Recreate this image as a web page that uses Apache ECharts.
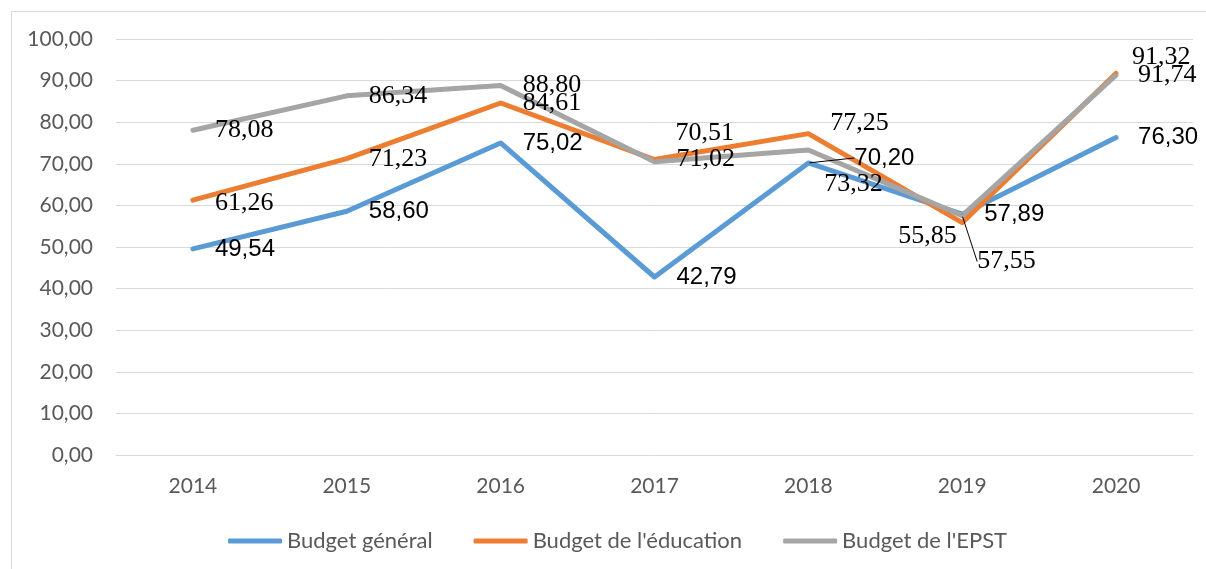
<!DOCTYPE html>
<html>
<head>
<meta charset="utf-8">
<script src="https://cdn.jsdelivr.net/npm/echarts@6/dist/echarts.min.js"></script>
<style>
  html, body { margin: 0; padding: 0; background: #fff; }
  #chart { width: 1206px; height: 569px; }
</style>
</head>
<body>
<div id="chart"></div>
<script>
    // data
    const years = ['2014', '2015', '2016', '2017', '2018', '2019', '2020'];
    const budgetGeneral = [49.54, 58.60, 75.02, 42.79, 70.20, 57.89, 76.30];
    const budgetEducation = [61.26, 71.23, 84.61, 71.02, 77.25, 55.85, 91.74];
    const budgetEpst = [78.08, 86.34, 88.80, 70.51, 73.32, 57.55, 91.32];
    const seriesNames = ['Budget général', "Budget de l'éducation", "Budget de l'EPST"];

    // label nudges (dataIndex -> [dx, dy]) and points with a leader line
    const moveGeneral = {4: [24, -5]};
    const moveEducation = {0: [0, 3], 4: [0, -10], 5: [-86, 14], 6: [0, 2]};
    const moveEpst = {3: [-1, -29], 4: [-6, 34], 5: [-7, 46], 6: [-6, -18]};
    const leaderGeneral = [4];
    const leaderEpst = [5];

    const SERIF = '"Liberation Serif", "Times New Roman", Times, serif';
    const SANS = '"Liberation Sans", Arial, sans-serif';
    const UI = 'Lato, "Open Sans", sans-serif';

    const fmt = v => v.toFixed(2).replace('.', ',');

    function buildData(values, leaders) {
        return values.map((v, i) => leaders.indexOf(i) >= 0
            ? {value: v, labelLine: {show: true, lineStyle: {color: '#000', width: 1}}}
            : v);
    }

    function makeSeries(name, values, color, font, size, moves, leaders) {
        return {
            name: name,
            type: 'line',
            data: buildData(values, leaders),
            symbol: 'circle',
            symbolSize: 2,
            showSymbol: true,
            lineStyle: {width: 5, color: color, cap: 'round', join: 'round'},
            itemStyle: {color: color},
            emphasis: {disabled: true},
            label: {
                show: true,
                position: 'right',
                distance: 21,
                color: '#000',
                fontFamily: font,
                fontSize: size,
                formatter: p => fmt(p.value)
            },
            labelLine: {show: false},
            labelLayout: function (params) {
                const m = moves[params.dataIndex];
                return m ? {dx: m[0], dy: m[1]} : {};
            }
        };
    }

    const chart = echarts.init(document.getElementById('chart'));
    const option = {
        backgroundColor: '#fff',
        animation: false,
        graphic: [{
            type: 'rect',
            left: 9,
            top: 9,
            shape: {width: 1300, height: 700},
            style: {fill: 'none', stroke: '#D9D9D9', lineWidth: 1},
            silent: true,
            z: -10
        }],
        grid: {left: 116, right: 13, top: 39, bottom: 114},
        legend: {
            data: seriesNames,
            left: 223,
            top: 525,
            icon: 'roundRect',
            itemWidth: 54,
            itemHeight: 5,
            itemGap: 41,
            textStyle: {color: '#595959', fontFamily: UI, fontSize: 22}
        },
        xAxis: {
            type: 'category',
            data: years,
            boundaryGap: true,
            axisTick: {show: false},
            axisLine: {lineStyle: {color: '#D9D9D9', width: 1}},
            axisLabel: {color: '#595959', fontFamily: UI, fontSize: 21, margin: 21}
        },
        yAxis: {
            type: 'value',
            min: 0,
            max: 100,
            interval: 10,
            axisLine: {show: false},
            axisTick: {show: false},
            splitLine: {lineStyle: {color: '#D9D9D9', width: 1}},
            axisLabel: {
                color: '#595959',
                fontFamily: UI,
                fontSize: 21,
                margin: 23,
                formatter: v => fmt(v)
            }
        },
        series: [
            makeSeries(seriesNames[0], budgetGeneral, '#5B9BD5', SANS, 24, moveGeneral, leaderGeneral),
            makeSeries(seriesNames[1], budgetEducation, '#ED7D31', SERIF, 26, moveEducation, []),
            makeSeries(seriesNames[2], budgetEpst, '#A5A5A5', SERIF, 26, moveEpst, leaderEpst)
        ]
    };
    chart.setOption(option);
</script>
</body>
</html>
